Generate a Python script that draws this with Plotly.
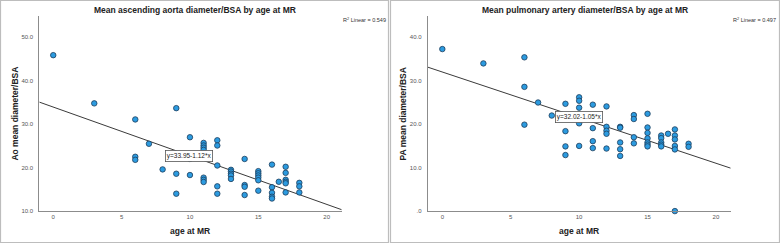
import plotly.graph_objects as go

W, H = 780, 246

# ---- Data: left panel (Ao mean diameter/BSA vs age at MR)
ao_age = [0, 3, 6, 9,
          6, 6, 7, 8, 9, 9, 10, 10, 10,
          11, 11, 11, 11, 11, 11, 11,
          12, 12, 12, 12, 12,
          13, 13, 13, 13, 13,
          14, 14, 14, 14,
          15, 15, 15, 15, 15, 15,
          16, 16, 16, 16, 16,
          16.5,
          17, 17, 17, 17, 17, 17,
          18, 18, 18]
ao_val = [45.9, 34.8, 31.1, 33.7,
          22.5, 21.8, 25.5, 19.6, 18.6, 14.0, 27.0, 18.3, 22.0,
          25.7, 25.1, 24.6, 24.1, 17.7, 17.2, 16.7,
          26.3, 25.1, 20.5, 15.7, 14.0,
          19.5, 19.1, 18.6, 18.2, 17.4,
          22.0, 16.0, 15.6, 13.7,
          19.2, 18.7, 18.2, 17.7, 17.1, 14.7,
          20.7, 15.5, 14.2, 13.3, 12.9,
          16.75,
          20.2, 18.8, 17.2, 16.75, 16.4, 14.3,
          16.5, 15.7, 14.3]
ao_fit = (33.95, -1.12)
ao_r2 = "0.549"

# ---- Data: right panel (PA mean diameter/BSA vs age at MR)
pa_age = [0, 3, 6, 6, 6, 7, 8,
          9, 9, 9, 9,
          10, 10, 10, 10, 10,
          11, 11, 11, 11,
          12, 12, 12, 12, 12,
          13, 13, 13, 13, 13,
          14, 14, 14, 14,
          15, 15, 15, 15, 15, 15, 15,
          16, 16, 16, 16, 16,
          16.5,
          17, 17, 17, 17, 17, 17,
          18, 18]
pa_val = [37.3, 34.0, 35.4, 28.6, 19.9, 25.0, 22.0,
          24.7, 18.4, 14.9, 12.9,
          26.2, 25.4, 23.8, 20.2, 15.0,
          24.5, 19.1, 16.1, 14.5,
          24.1, 19.4, 18.5, 17.8, 14.4,
          19.4, 19.2, 15.8, 14.25, 12.7,
          22.1, 21.2, 17.0, 15.6,
          22.4, 19.25, 18.0, 16.75, 15.8, 15.3, 14.9,
          17.4, 16.8, 15.8, 15.3, 14.9,
          17.8,
          18.8, 17.4, 16.5, 15.0, 14.2, 0.0,
          15.5, 14.8]
pa_fit = (32.02, -1.05)
pa_r2 = "0.497"

x_ticks = [0, 5, 10, 15, 20]
ao_yticks = [10, 20, 30, 40, 50]
ao_ytext = ["10.0", "20.0", "30.0", "40.0", "50.0"]
pa_yticks = [0, 10, 20, 30, 40]
pa_ytext = [".0", "10.0", "20.0", "30.0", "40.0"]

titles = ["Mean ascending aorta diameter/BSA by age at MR",
          "Mean pulmonary artery diameter/BSA by age at MR"]
ytitles = ["Ao mean diameter/BSA", "PA mean diameter/BSA"]
xtitle = "age at MR"

FONT = "Liberation Sans, Arial, sans-serif"
MARKER = dict(size=5.5, color="#2c9be0", line=dict(color="#1d3d5c", width=0.8))

def px(x):
    return x / W

def py(y):
    return 1 - y / H

fig = go.Figure()

panels = [
    dict(age=ao_age, val=ao_val, fit=ao_fit, r2=ao_r2, xr=[-1.02, 21.1], yr=[10, 54.8],
         yt=ao_yticks, ytt=ao_ytext, dom=[px(39.3), px(341.7)], xa="x", ya="y",
         lab=(9.93, 22.7), title_x=195, xt_x=190, yt_x=15, r2_x=388),
    dict(age=pa_age, val=pa_val, fit=pa_fit, r2=pa_r2, xr=[-1.07, 21.08], yr=[0, 44.8],
         yt=pa_yticks, ytt=pa_ytext, dom=[px(427.7), px(730.7)], xa="x2", ya="y2",
         lab=(9.98, 21.6), title_x=584.5, xt_x=579, yt_x=403, r2_x=778),
]

ydom = [py(213.7), py(16.7)]
shapes = []
annotations = []

for i, p in enumerate(panels):
    a0, b = p["fit"]
    xs = [p["xr"][0], p["xr"][1]]
    ys = [a0 + b * v for v in xs]
    fig.add_trace(go.Scatter(x=xs, y=ys, mode="lines", xaxis=p["xa"], yaxis=p["ya"],
                             line=dict(color="#3a3a3a", width=1), hoverinfo="skip",
                             showlegend=False, cliponaxis=True))
    fig.add_trace(go.Scatter(x=p["age"], y=p["val"], mode="markers", xaxis=p["xa"],
                             yaxis=p["ya"], marker=MARKER, showlegend=False,
                             cliponaxis=False))
    sfx = "" if i == 0 else "2"
    fig.update_layout(**{
        "xaxis" + sfx: dict(domain=p["dom"], range=p["xr"], anchor="y" + sfx,
                            tickvals=x_ticks, ticktext=[str(t) for t in x_ticks],
                            showgrid=False, zeroline=False, showline=True,
                            linecolor="#8c8c8c", linewidth=1, ticks="",
                            tickfont=dict(size=6, color="#555555", family=FONT)),
        "yaxis" + sfx: dict(domain=ydom, range=p["yr"], anchor="x" + sfx,
                            tickvals=p["yt"], ticktext=p["ytt"],
                            showgrid=False, zeroline=False, showline=True,
                            linecolor="#8c8c8c", linewidth=1, ticks="",
                            ticklabelstandoff=4,
                            tickfont=dict(size=6, color="#555555", family=FONT)),
    })
    # panel frame
    x0 = 0.5 if i == 0 else 390.5
    x1 = 388.5 if i == 0 else 779.5
    shapes.append(dict(type="rect", xref="paper", yref="paper",
                       x0=px(x0), x1=px(x1), y0=py(245.5), y1=py(0.5),
                       line=dict(color="#bdbdbd", width=1.2), layer="below"))
    annotations += [
        dict(text="<b>" + titles[i] + "</b>", xref="paper", yref="paper",
             x=px(p["title_x"]), y=py(10), showarrow=False,
             font=dict(size=8.5, family=FONT, color="#222222"), xanchor="center",
             yanchor="middle"),
        dict(text="<b>" + xtitle + "</b>", xref="paper", yref="paper",
             x=px(p["xt_x"]), y=py(233.5), showarrow=False,
             font=dict(size=8.5, family=FONT, color="#222222"), xanchor="center",
             yanchor="middle"),
        dict(text="<b>" + ytitles[i] + "</b>", xref="paper", yref="paper",
             x=px(p["yt_x"]), y=py(115), showarrow=False, textangle=-90,
             font=dict(size=8.5, family=FONT, color="#222222"), xanchor="center",
             yanchor="middle"),
        dict(text="R<sup>2</sup> Linear = " + p["r2"], xref="paper", yref="paper",
             x=px(p["r2_x"]), y=py(20), showarrow=False,
             font=dict(size=5.5, family=FONT, color="#333333"), xanchor="right",
             yanchor="middle"),
        dict(text="y=%.2f-%.2f*x" % (a0, -b), xref=p["xa"], yref=p["ya"],
             x=p["lab"][0], y=p["lab"][1], showarrow=False,
             font=dict(size=6.5, family=FONT, color="#222222"),
             bgcolor="white", bordercolor="#555555", borderwidth=0.8, borderpad=1,
             xanchor="center", yanchor="middle"),
    ]

fig.update_layout(width=W, height=H, margin=dict(l=0, r=0, t=0, b=0),
                  paper_bgcolor="white", plot_bgcolor="white",
                  shapes=shapes, annotations=annotations,
                  font=dict(family=FONT))

fig.write_html("out.html")
